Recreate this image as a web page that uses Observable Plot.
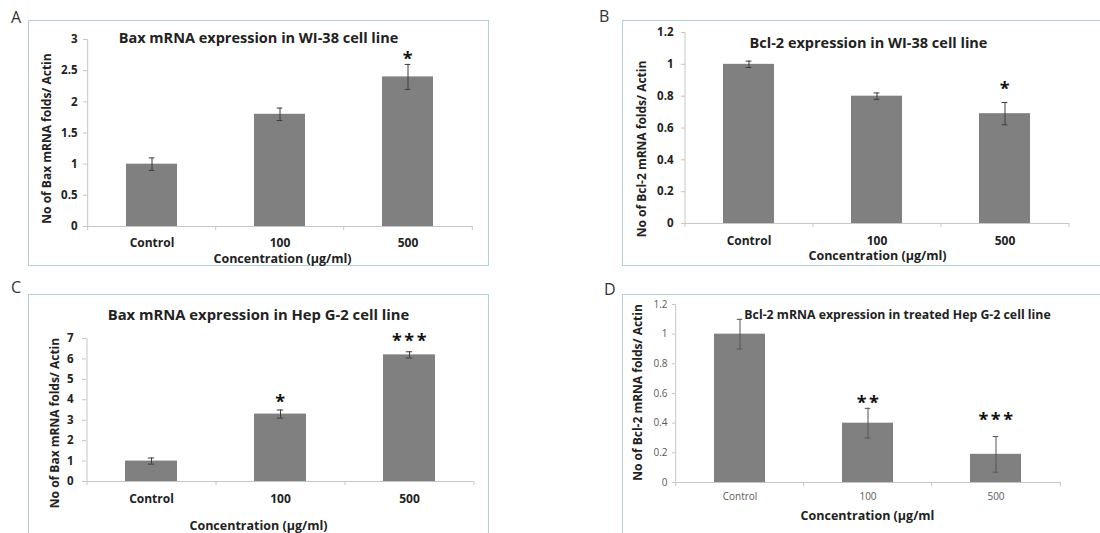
<!DOCTYPE html>
<html><head><meta charset="utf-8">
<script src="https://cdn.jsdelivr.net/npm/d3@7"></script>
<script src="https://cdn.jsdelivr.net/npm/@observablehq/plot@0.6"></script>
<style>
html,body{margin:0;padding:0;background:#fff;}
#root{position:relative;width:1100px;height:533px;overflow:hidden;font-family:"Open Sans",sans-serif;background:#fff;}
.box{position:absolute;border:1.5px solid #b3d0d5;box-sizing:border-box;}
.lab{position:absolute;font-size:16px;color:#333;line-height:1;font-family:"Open Sans",sans-serif;}
.panel{position:absolute;}
</style></head><body><div id="root"></div>
<script>
// ---- data ----
const categories = ["Control", "100", "500"];

const titleA = "Bax mRNA expression in WI-38 cell line";
const ylabelA = "No of Bax mRNA folds/ Actin";
const xlabelA = "Concentration (µg/ml)";
const meanA = [1.0, 1.8, 2.4];
const errA = [0.1, 0.1, 0.2];
const starsA = ["", "", "*"];
const starYA = [null, null, 2.74];
const yTicksA = [0, 0.5, 1, 1.5, 2, 2.5, 3];

const titleB = "Bcl-2 expression in WI-38 cell line";
const ylabelB = "No of Bcl-2 mRNA folds/ Actin";
const xlabelB = "Concentration (µg/ml)";
const meanB = [1.0, 0.8, 0.69];
const errB = [0.02, 0.02, 0.07];
const starsB = ["", "", "*"];
const starYB = [null, null, 0.87];
const yTicksB = [0, 0.2, 0.4, 0.6, 0.8, 1, 1.2];

const titleC = "Bax mRNA expression in Hep G-2 cell line";
const ylabelC = "No of Bax mRNA folds/ Actin";
const xlabelC = "Concentration (µg/ml)";
const meanC = [1.0, 3.3, 6.2];
const errC = [0.15, 0.2, 0.15];
const starsC = ["", "*", "***"];
const starYC = [null, 4.07, 7.06];
const yTicksC = [0, 1, 2, 3, 4, 5, 6, 7];

const titleD = "Bcl-2 mRNA expression in treated Hep G-2 cell line";
const ylabelD = "No of Bcl-2 mRNA folds/ Actin";
const xlabelD = "Concentration (µg/ml";
const meanD = [1.0, 0.4, 0.19];
const errD = [0.1, 0.1, 0.12];
const starsD = ["", "**", "***"];
const starYD = [null, 0.56, 0.447];
const yTicksD = [0, 0.2, 0.4, 0.6, 0.8, 1, 1.2];

// ---- layout ----
const root = document.getElementById("root");

function addDiv(cls, css, text) {
  const d = document.createElement("div");
  d.className = cls;
  Object.assign(d.style, css);
  if (text) d.textContent = text;
  root.appendChild(d);
  return d;
}

const FONT = "'Open Sans', sans-serif";

function panel(L, title, ylabel, xlabel, mean, err, stars, starY, yTicks) {
  const rows = categories.map((c, i) => ({
    cat: c, mean: mean[i], lo: mean[i] - err[i], hi: mean[i] + err[i],
    star: stars[i], starY: starY[i]
  }));
  const plotW = L.width - L.ml - L.mr;
  const plotH = L.height - L.mt - L.mb;
  const step = plotW / 3;
  const bw = step * 0.4;
  const capK = (bw - 6) / 2;
  const axisStroke = "#c6c6c6";
  const errStroke = L.errStroke;
  const svg = Plot.plot({
    width: L.width, height: L.height,
    marginLeft: L.ml, marginRight: L.mr, marginTop: L.mt, marginBottom: L.mb,
    style: {fontFamily: FONT, fontSize: "12px", color: "#222", background: "transparent", overflow: "visible"},
    x: {domain: categories, paddingInner: 0.6, paddingOuter: 0.3},
    y: {domain: [yTicks[0], yTicks[yTicks.length - 1]]},
    marks: [
      Plot.barY(rows, {x: "cat", y: "mean", fill: "#808080"}),
      Plot.ruleY([0], {stroke: axisStroke}),
      Plot.tickX([categories[0]], {x: d => d, dx: -step / 2, stroke: axisStroke, insetBottom: -4}),
      Plot.tickX(categories.slice(1), {x: d => d, dx: -step / 2, stroke: axisStroke, insetTop: plotH, insetBottom: -4}),
      Plot.tickX([categories[2]], {x: d => d, dx: step / 2, stroke: axisStroke, insetTop: plotH, insetBottom: -4}),
      Plot.axisY({ticks: yTicks, tickFormat: d => String(d), tickSize: L.yts, tickPadding: L.ytp, stroke: axisStroke,
        fill: L.tickFill, fontWeight: L.tickWeight, fontSize: L.tickSize, label: null}),
      Plot.axisX({tickSize: 0, tickPadding: L.xtp, fill: L.tickFill, fontWeight: L.tickWeight, fontSize: L.xTickSize, label: null}),
      Plot.ruleX(rows, {x: "cat", y1: "lo", y2: "hi", stroke: errStroke}),
      Plot.tickY(rows, {x: "cat", y: "hi", insetLeft: capK, insetRight: capK, stroke: errStroke}),
      Plot.tickY(rows, {x: "cat", y: "lo", insetLeft: capK, insetRight: capK, stroke: errStroke}),
      Plot.text(rows.filter(r => r.star), {x: "cat", y: "starY", text: "star", fontSize: 18, fontWeight: "bold", fill: "#111", dy: 4, dx: 1}),
      Plot.text([title], {text: d => d, frameAnchor: "top", lineAnchor: "middle", textAnchor: "middle", dx: L.tdx, dy: L.tdy, fontSize: L.tsize, fontWeight: "bold", fill: "#222"}),
      Plot.text([ylabel], {text: d => d, frameAnchor: "left", lineAnchor: "middle", textAnchor: "middle", rotate: -90, dx: L.ydx, dy: L.ydy, fontSize: 12, fontWeight: "bold", fill: "#222"}),
      Plot.text([xlabel], {text: d => d, frameAnchor: "bottom", lineAnchor: "middle", textAnchor: "middle", dx: L.xdx, dy: L.xdy, fontSize: 12.5, fontWeight: "bold", fill: "#222"})
    ]
  });
  svg.querySelectorAll("text").forEach(t => {
    if (/^\*+$/.test(t.textContent)) t.style.letterSpacing = "2.5px";
  });
  const wrap = addDiv("panel", {left: L.left + "px", top: L.top + "px"});
  wrap.appendChild(svg);
}

// frames and panel letters
addDiv("box", {left: "28px", top: "20px", width: "461px", height: "246px"});
addDiv("box", {left: "622px", top: "20px", width: "490px", height: "246px"});
addDiv("box", {left: "28px", top: "294px", width: "461px", height: "260px"});
addDiv("box", {left: "622px", top: "294px", width: "490px", height: "260px"});
addDiv("lab", {left: "11px", top: "9px"}, "A");
addDiv("lab", {left: "599px", top: "8px"}, "B");
addDiv("lab", {left: "11px", top: "279px"}, "C");
addDiv("lab", {left: "604px", top: "281px"}, "D");

const bold = {tickFill: "#222", tickWeight: "bold", tickSize: 11.5, xTickSize: 12, errStroke: "#3c3c3c"};

panel({left: 28, top: 21, width: 460, height: 244, ml: 59, mr: 15, mt: 18, mb: 39,
  tdx: -22, tdy: -1, tsize: 14.5, ydx: -40, ydy: 5.5, xdx: 2, xdy: 32, xtp: 12, yts: 4, ytp: 6, ...bold},
  titleA, ylabelA, xlabelA, meanA, errA, starsA, starYA, yTicksA);

panel({left: 622, top: 21, width: 478, height: 244, ml: 63, mr: 31, mt: 11, mb: 42,
  tdx: -9, tdy: 11, tsize: 14.5, ydx: -43, ydy: 21, xdx: 0, xdy: 32.5, xtp: 12.5, yts: 4, ytp: 8, ...bold},
  titleB, ylabelB, xlabelB, meanB, errB, starsB, starYB, yTicksB);

panel({left: 28, top: 295, width: 460, height: 238, ml: 58, mr: 15, mt: 43, mb: 52,
  tdx: -21.5, tdy: -23, tsize: 14.8, ydx: -31, ydy: 13, xdx: -21.5, xdy: 44.5, xtp: 13, yts: 4, ytp: 9, ...bold},
  titleC, ylabelC, xlabelC, meanC, errC, starsC, starYC, yTicksC);

panel({left: 622, top: 295, width: 478, height: 238, ml: 53, mr: 39, mt: 9, mb: 51,
  tdx: 29, tdy: 10.7, tsize: 12.3, ydx: -37, ydy: -1, xdx: -1, xdy: 33, xtp: 10, yts: 3, ytp: 5,
  tickFill: "#5a5a5a", tickWeight: "normal", tickSize: 10, xTickSize: 10, errStroke: "#555"},
  titleD, ylabelD, xlabelD, meanD, errD, starsD, starYD, yTicksD);
</script>
</body></html>
